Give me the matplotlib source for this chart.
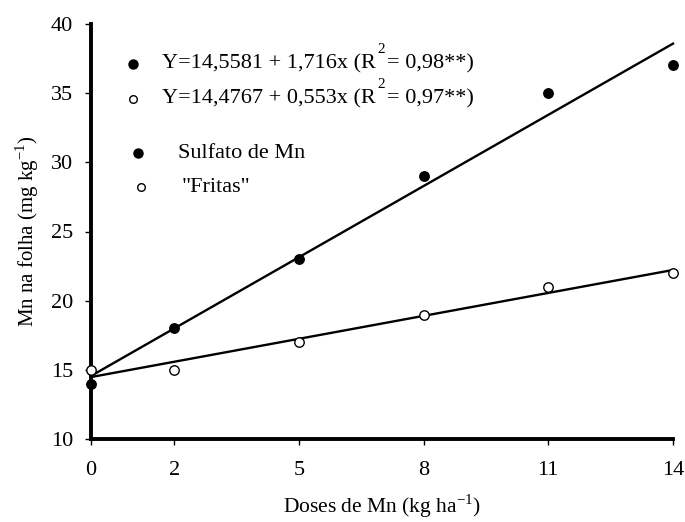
import matplotlib
matplotlib.use("Agg")
import matplotlib.pyplot as plt
import numpy as np

plt.rcParams['font.family'] = ['Liberation Serif', 'DejaVu Serif']
plt.rcParams['mathtext.fontset'] = 'custom'
plt.rcParams['mathtext.rm'] = 'Liberation Serif'

# Doses de Mn (kg/ha) and Mn content in leaves
doses = [0, 2, 5, 8, 11, 14]
sulfato = [14, 18, 23, 29, 35, 37]
fritas = [15, 15, 17, 19, 21, 22]

# Fitted regressions (intercept, slope)
sulfato_fit = (14.5581, 1.716)
fritas_fit = (14.4767, 0.553)
eq_labels = [("Y=14,5581 + 1,716x (R", "= 0,98**)"),
             ("Y=14,4767 + 0,553x (R", "= 0,97**)")]
series_labels = ["Sulfato de Mn", '"Fritas"']

W, H = 685, 522
fig = plt.figure(figsize=(W/100, H/100), dpi=100)
ax = fig.add_axes([91/W, 83/H, (673-91)/W, (439-24)/H])

xx = np.array([doses[0], doses[-1]], dtype=float)
ax.plot(xx, sulfato_fit[0] + sulfato_fit[1]*xx, color='black', lw=1.7, zorder=2, clip_on=False)
ax.plot(xx, fritas_fit[0] + fritas_fit[1]*xx, color='black', lw=1.7, zorder=2, clip_on=False)

ms = 6.8
ax.plot(doses, sulfato, 'o', color='black', ms=ms, zorder=3, clip_on=False)
ax.plot(doses, fritas, 'o', mfc='white', mec='black', mew=1, ms=ms, zorder=3, clip_on=False)

ax.set_xlim(0, 14)
ax.set_ylim(10, 40)
ax.set_xticks(doses)
ax.set_xticklabels([str(d) for d in doses])
ax.set_yticks([10, 15, 20, 25, 30, 35, 40])

for s in ['top', 'right']:
    ax.spines[s].set_visible(False)
ax.spines['left'].set_linewidth(2.8)
ax.spines['bottom'].set_linewidth(2.8)
ax.tick_params(direction='out', length=4, width=1, labelsize=16)
ax.tick_params(axis='x', pad=12)
ax.tick_params(axis='y', pad=9)

ax.set_xlabel("Doses de Mn (kg ha$^{-1}$)", fontsize=15.5)
ax.set_ylabel("Mn na folha (mg kg$^{-1}$)", fontsize=15)
ax.xaxis.set_label_coords(0.5, -0.128)
ax.yaxis.set_label_coords(-0.086, 0.5)

fs = 16

def px(x, y):
    return fig.transFigure.inverted().transform((x, H - y))

def legend_marker(x, y, filled):
    mx, my = px(x, y)
    fig.lines.append(plt.Line2D([mx], [my], marker='o', ms=6.5 if filled else 5.5,
                                mfc='black' if filled else 'white', mec='black',
                                mew=1, transform=fig.transFigure))

# Regression equations
for i, ((pre, post), filled) in enumerate(zip(eq_labels, [True, False])):
    row_y = 64 + 35*i
    legend_marker(133, row_y, filled)
    tx, ty = px(162, row_y)
    t1 = fig.text(tx, ty, pre, fontsize=fs, va='center', ha='left')
    ax.annotate("2", xy=(1.0, 0.9), xycoords=t1, xytext=(2, 0),
                textcoords='offset pixels', fontsize=11, ha='left', va='bottom',
                annotation_clip=False)
    ax.annotate(post, xy=(1.0, 0.0), xycoords=t1, xytext=(11, 0),
                textcoords='offset pixels', fontsize=fs, ha='left', va='bottom',
                annotation_clip=False)

# Series legend
for i, (lab, filled) in enumerate(zip(series_labels, [True, False])):
    row_y = 153 + 34*i
    legend_marker(138 if filled else 141, row_y, filled)
    tx, ty = px(178 if filled else 182, row_y)
    fig.text(tx, ty, lab, fontsize=fs, va='center', ha='left')

fig.savefig("out.png", dpi=100)
